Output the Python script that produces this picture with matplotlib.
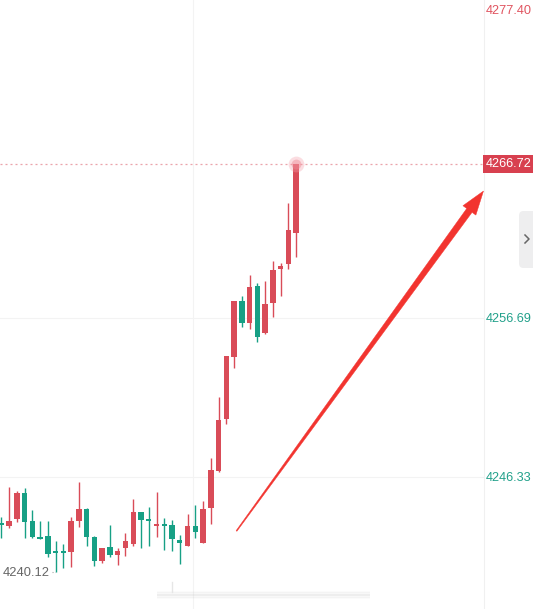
import matplotlib
matplotlib.use("Agg")
import matplotlib.pyplot as plt
from matplotlib.patches import Polygon, FancyBboxPatch, Rectangle
from matplotlib.lines import Line2D
import matplotlib.transforms as mtransforms
import numpy as np

# ---------------- data ----------------
opens = [4243.27, 4243.10, 4243.54, 4245.27, 4243.43, 4242.41, 4242.45, 4241.48, 4241.46, 4241.41,
         4243.43, 4244.21, 4242.41, 4240.82, 4241.76, 4241.22, 4241.69, 4241.91, 4244.04, 4243.53,
         4243.14, 4243.20, 4243.17, 4242.19, 4241.82, 4243.10, 4242.00, 4244.26, 4246.71, 4250.06,
         4254.13, 4257.76, 4256.35, 4258.74, 4255.66, 4257.65, 4259.87, 4260.17, 4262.21]
closes = [4243.20, 4243.43, 4245.27, 4243.38, 4242.39, 4242.29, 4241.28, 4241.35, 4241.33, 4243.43,
          4244.21, 4242.41, 4240.82, 4241.65, 4241.22, 4241.48, 4242.13, 4244.04, 4243.51, 4243.46,
          4243.20, 4243.14, 4242.24, 4241.98, 4243.10, 4242.69, 4244.20, 4246.75, 4250.01, 4254.18,
          4257.76, 4256.35, 4258.69, 4255.44, 4257.61, 4259.83, 4260.04, 4262.39, 4266.72]
highs = [4243.71, 4245.65, 4245.38, 4245.60, 4244.15, 4243.43, 4243.43, 4242.16, 4241.96, 4243.69,
         4245.97, 4244.28, 4242.47, 4241.69, 4243.17, 4241.69, 4242.63, 4244.86, 4244.05, 4244.32,
         4245.34, 4243.61, 4243.50, 4242.52, 4243.89, 4244.47, 4244.73, 4247.52, 4251.53, 4254.21,
         4257.79, 4258.09, 4259.46, 4258.98, 4259.07, 4260.39, 4260.26, 4264.19, 4266.72]
lows = [4242.32, 4242.97, 4243.38, 4242.30, 4242.32, 4242.28, 4241.09, 4240.12, 4240.37, 4240.43,
        4243.04, 4241.82, 4240.50, 4240.71, 4241.07, 4240.56, 4241.17, 4241.82, 4241.69, 4241.82,
        4242.41, 4241.54, 4241.48, 4240.61, 4241.80, 4242.30, 4241.98, 4243.27, 4246.62, 4249.75,
        4253.44, 4256.09, 4255.98, 4255.11, 4255.65, 4256.74, 4258.09, 4259.85, 4260.65]

axis_top = 4277.40
last_price = 4266.72
grid_prices = [4256.69, 4246.33]
min_label = "4240.12"
min_index = 7

RED = "#d94c58"
GREEN = "#17a085"
LABEL_RED = "#e0535f"
LABEL_GREEN = "#21a08a"
ARROW = "#f2342f"
FONT = "Liberation Sans"

W, H = 533, 609
fig = plt.figure(figsize=(W / 100, H / 100), dpi=100)
fig.patch.set_facecolor("white")
ax_right_px = 484
ax = fig.add_axes([0, 0, ax_right_px / W, 1])

n = len(opens)
idx = np.arange(n)
px_per_bar = 7.76
x_left = -1.3 / px_per_bar
x_right = x_left + ax_right_px / px_per_bar
ax.set_xlim(x_left, x_right)
ax.set_ylim(4237.70, axis_top)

# grid
for g in grid_prices:
    ax.axhline(g, color="#f3f3f3", lw=0.8, zorder=0)
ax.axvline(x_left + 193 / px_per_bar, color="#f3f3f3", lw=0.8, zorder=0)

# candles
o = np.array(opens); c = np.array(closes)
up = c >= o
cols = np.where(up, RED, GREEN)
bottom = np.minimum(o, c)
height = np.maximum(np.abs(c - o), 0.09)
ax.vlines(idx, lows, highs, colors=cols, lw=1.0, zorder=2)
ax.bar(idx, height, bottom=bottom, width=0.70, color=cols, linewidth=0, zorder=3)

# last price line & glow
ax.axhline(last_price, color="#eba3ab", lw=0.9, linestyle=(0, (1.6, 2.4)), zorder=1)
ax.scatter([n - 1], [last_price], s=130, color="#f4a0aa", alpha=0.35, linewidths=0, zorder=4)
ax.scatter([n - 1], [last_price], s=50, color="#ee8894", alpha=0.45, linewidths=0, zorder=4)

# min label
ax.annotate(min_label, xy=(min_index, float(min_label)), xytext=(-4.5, -0.5),
            textcoords="offset points", ha="right", va="center",
            fontsize=9.3, color="#666666", family=FONT)
ax.plot([min_index - 0.45, min_index - 0.05], [float(min_label)] * 2, color="#aaaaaa",
        lw=0.8, linestyle=(0, (1, 1.5)), zorder=1)

# axes cosmetics
for s in ["top", "left", "bottom"]:
    ax.spines[s].set_visible(False)
ax.spines["right"].set_color("#f0f0f0")
ax.spines["right"].set_linewidth(0.8)
ax.set_xticks([]); ax.set_yticks([])

# right price labels
trans = mtransforms.blended_transform_factory(ax.transAxes, ax.transData)
lx = 1.0 + 2 / ax_right_px
top_trans = trans + mtransforms.ScaledTranslation(0, -3.5 / 72, fig.dpi_scale_trans)
ax.text(lx, axis_top, "%.2f" % axis_top, transform=top_trans, ha="left", va="top",
        fontsize=9.2, color=LABEL_RED, family=FONT)
for g in grid_prices:
    ax.text(lx, g, "%.2f" % g, transform=trans, ha="left", va="center_baseline",
            fontsize=9.2, color=LABEL_GREEN, family=FONT)
ax.text(lx, last_price, "%.2f" % last_price, transform=trans, ha="left", va="center",
        fontsize=9.2, color="white", family=FONT, zorder=6,
        bbox=dict(boxstyle="square,pad=0.25", fc="#d8404f", ec="none"))
for t in ax.texts:
    t.set_clip_on(False)

# ---- annotation arrow (figure pixel coordinates) ----
def pix(x, y):
    return (x / W, 1 - y / H)

tail = np.array([236.5, 531.0])
tip = np.array([483.5, 191.0])
d = tip - tail
L = np.hypot(*d)
u = d / L
nrm = np.array([-u[1], u[0]])
head_len, head_hw, tail_hw, shaft_hw = 24.0, 8.0, 0.5, 3.3
base = tip - u * head_len
pts = [tail + nrm * tail_hw, base + nrm * shaft_hw, base + nrm * head_hw, tip,
       base - nrm * head_hw, base - nrm * shaft_hw, tail - nrm * tail_hw]
fig.patches.append(Polygon([pix(*p) for p in pts], closed=True, transform=fig.transFigure,
                           fc=ARROW, ec=ARROW, lw=0.3, zorder=10))

# collapse button on the right
fig.patches.append(FancyBboxPatch(pix(519, 268), 25 / W, 57 / H,
                                  boxstyle="round,pad=0,rounding_size=0.008",
                                  transform=fig.transFigure, fc="#eeeeef", ec="none"))
fig.lines.append(Line2D([525 / W, 529 / W, 525 / W],
                        [1 - 235 / H, 1 - 239 / H, 1 - 243 / H],
                        transform=fig.transFigure, color="#666666", lw=1.1))

# blurred scrollbar at bottom
for k, a in enumerate([0.06, 0.10, 0.16, 0.10, 0.06]):
    fig.patches.append(Rectangle(pix(157, 599 - k * 1.4), 213 / W, 2.5 / H,
                                 transform=fig.transFigure, fc="#bdbdbd", ec="none", alpha=a))
fig.lines.append(Line2D([172 / W, 172 / W], [1 - 582 / H, 1 - 592 / H],
                        transform=fig.transFigure, color="#e6e6e6", lw=1.0))

fig.savefig("out.png", dpi=100)
